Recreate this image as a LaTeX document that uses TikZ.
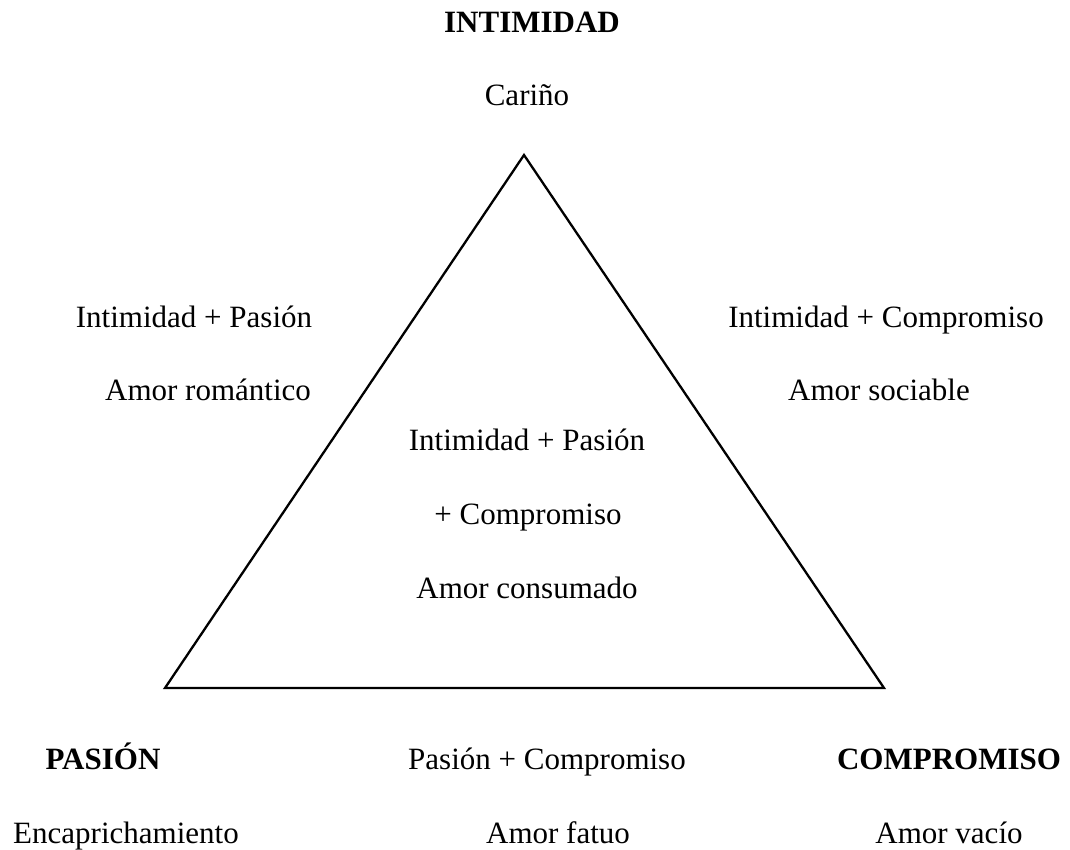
\documentclass[tikz,border=0pt]{standalone}
\usepackage{fontspec}
\setmainfont{Liberation Serif}
\begin{document}
\begin{tikzpicture}[x=1pt,y=-1pt,
  lbl/.style={inner sep=0pt,anchor=base,font=\fontsize{31}{37}\selectfont},
  hdr/.style={lbl,font=\fontsize{31}{37}\selectfont\bfseries}]
\useasboundingbox (0,0) rectangle (1070,850);
\coordinate (A) at (524,155);
\coordinate (B) at (165,688);
\coordinate (C) at (884,688);
\draw[line width=2.3pt,line join=miter] (A) -- (B) -- (C) -- cycle;
\node[hdr] (int) at (532,33) {INTIMIDAD};
\node[lbl] (car) at (527,106) {Cariño};
\node[lbl] (ip) at (194,327) {Intimidad + Pasión};
\node[lbl] (ar) at (208,400) {Amor romántico};
\node[lbl] (ic) at (886,327) {Intimidad + Compromiso};
\node[lbl] (as) at (879,400) {Amor sociable};
\node[lbl] (ipc1) at (527,450) {Intimidad + Pasión};
\node[lbl] (ipc2) at (528,524) {+ Compromiso};
\node[lbl] (ac) at (527,598) {Amor consumado};
\node[hdr] (pas) at (103,769) {PASIÓN};
\node[lbl] (pc) at (547,769) {Pasión + Compromiso};
\node[hdr] (com) at (949,769) {COMPROMISO};
\node[lbl] (enc) at (126,843) {Encaprichamiento};
\node[lbl] (af) at (558,843) {Amor fatuo};
\node[lbl] (av) at (949,843) {Amor vacío};
\end{tikzpicture}
\end{document}
